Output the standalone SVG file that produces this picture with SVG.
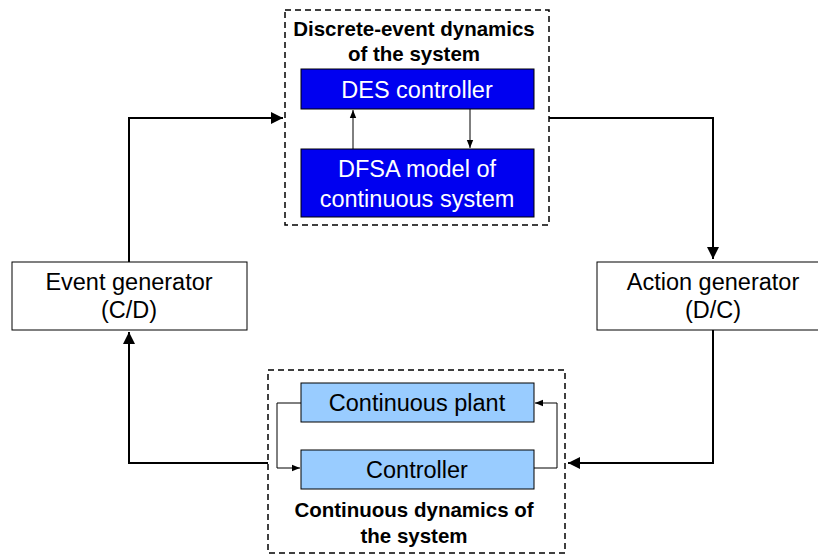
<svg xmlns="http://www.w3.org/2000/svg" width="818" height="554" viewBox="0 0 818 554">
  <style>
    .txt { font-family: "Liberation Sans", Arial, sans-serif; font-size: 23.5px; text-anchor: middle; fill: #000; }
    .wt { fill: #fff; }
    .title { font-family: "Liberation Sans", Arial, sans-serif; font-size: 20.5px; font-weight: bold; text-anchor: middle; fill: #000; }
    .group { fill: none; stroke: #000; stroke-width: 1.5; stroke-dasharray: 6 4; }
    .plain { fill: #fff; stroke: #000; stroke-width: 1; }
    .des { fill: #0000f0; stroke: #000; stroke-width: 1; }
    .cont { fill: #99ccff; stroke: #000; stroke-width: 1; }
    .wire { fill: none; stroke: #000; stroke-width: 2; }
    .thin { fill: none; stroke: #000; stroke-width: 1; }
  </style>
  <defs>
    <marker id="arrowBig" viewBox="0 0 10 10" refX="10" refY="5" markerWidth="6" markerHeight="6" orient="auto" markerUnits="strokeWidth">
      <path d="M0,0 L10,5 L0,10 z" fill="#000"/>
    </marker>
    <marker id="arrowSmall" viewBox="0 0 10 10" refX="10" refY="5" markerWidth="9" markerHeight="8" orient="auto" markerUnits="strokeWidth">
      <path d="M0,1 L10,5 L0,9 z" fill="#000"/>
    </marker>
  </defs>

  <rect width="818" height="554" fill="#fff"/>

  <!-- connectors -->
  <g id="connectors">
    <polyline class="wire" points="129,262 129,118 283,118" marker-end="url(#arrowBig)"/>
    <polyline class="wire" points="549,118 713,118 713,259" marker-end="url(#arrowBig)"/>
    <polyline class="wire" points="713,330 713,463 568,463" marker-end="url(#arrowBig)"/>
    <polyline class="wire" points="268,463 129,463 129,332" marker-end="url(#arrowBig)"/>
    <line class="thin" x1="353" y1="149" x2="353" y2="110" marker-end="url(#arrowSmall)"/>
    <line class="thin" x1="470" y1="109" x2="470" y2="148" marker-end="url(#arrowSmall)"/>
    <polyline class="thin" points="301,403 277,403 277,468 300,468" marker-end="url(#arrowSmall)"/>
    <polyline class="thin" points="534,468 557,468 557,403 535,403" marker-end="url(#arrowSmall)"/>
  </g>

  <!-- discrete-event group -->
  <g id="discrete-group">
    <rect class="group" x="285" y="10" width="264" height="215"/>
    <text class="title" x="414" y="36">Discrete-event dynamics</text>
    <text class="title" x="414" y="61">of the system</text>
  </g>
  <g id="des-controller">
    <rect class="des" x="301" y="69" width="233" height="40"/>
    <text class="txt wt" x="417" y="98">DES controller</text>
  </g>
  <g id="dfsa-model">
    <rect class="des" x="301" y="149" width="233" height="68"/>
    <text class="txt wt" x="417" y="177">DFSA model of</text>
    <text class="txt wt" x="417" y="207">continuous system</text>
  </g>

  <!-- generators -->
  <g id="event-generator">
    <rect class="plain" x="12" y="262" width="235" height="68"/>
    <text class="txt" x="129" y="290">Event generator</text>
    <text class="txt" x="129" y="318">(C/D)</text>
  </g>
  <g id="action-generator">
    <rect class="plain" x="597" y="262" width="235" height="68"/>
    <text class="txt" x="713" y="290">Action generator</text>
    <text class="txt" x="713" y="318">(D/C)</text>
  </g>

  <!-- continuous group -->
  <g id="continuous-group">
    <rect class="group" x="268" y="370" width="297" height="183"/>
    <text class="title" x="414" y="517">Continuous dynamics of</text>
    <text class="title" x="414" y="543">the system</text>
  </g>
  <g id="continuous-plant">
    <rect class="cont" x="301" y="383" width="233" height="39"/>
    <text class="txt" x="417" y="411">Continuous plant</text>
  </g>
  <g id="controller">
    <rect class="cont" x="301" y="450" width="233" height="39"/>
    <text class="txt" x="417" y="478">Controller</text>
  </g>
</svg>
